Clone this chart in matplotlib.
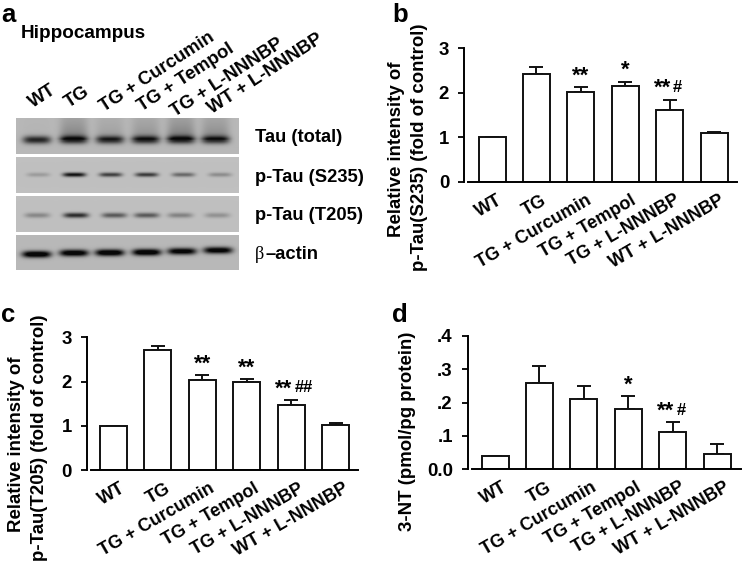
import matplotlib
matplotlib.use("Agg")
import matplotlib.pyplot as plt
import numpy as np
from matplotlib.transforms import ScaledTranslation

W, H = 742, 568

plt.rcParams["font.family"] = ["Liberation Sans", "DejaVu Sans"]
plt.rcParams["font.weight"] = "bold"

groups = ["WT", "TG", "TG + Curcumin", "TG + Tempol", "TG + L-NNNBP", "WT + L-NNNBP"]

# bar heights and upper error bars
b_values = [1.0, 2.42, 2.02, 2.16, 1.62, 1.10]
b_errors = [0.0, 0.15, 0.11, 0.09, 0.23, 0.03]
b_stars = ["", "", "**", "*", "**", ""]
b_hashes = ["", "", "", "", "#", ""]
b_ticks = [0, 1, 2, 3]
b_ticklabels = ["0", "1", "2", "3"]

c_values = [1.0, 2.71, 2.04, 2.00, 1.47, 1.03]
c_errors = [0.0, 0.10, 0.10, 0.06, 0.12, 0.03]
c_stars = ["", "", "**", "**", "**", ""]
c_hashes = ["", "", "", "", "##", ""]
c_ticks = [0, 1, 2, 3]
c_ticklabels = ["0", "1", "2", "3"]

d_values = [0.04, 0.26, 0.21, 0.18, 0.11, 0.045]
d_errors = [0.0, 0.05, 0.04, 0.04, 0.03, 0.03]
d_stars = ["", "", "", "*", "**", ""]
d_hashes = ["", "", "", "", "#", ""]
d_ticks = [0, 0.1, 0.2, 0.3, 0.4]
d_ticklabels = ["0.0", ".1", ".2", ".3", ".4"]

# band darkness per lane, smear is the haze above the band
tau_bands = [0.58, 0.62, 0.58, 0.60, 0.62, 0.58]
tau_smear = [0.02, 0.26, 0.12, 0.18, 0.28, 0.22]
s235_bands = [0.14, 0.68, 0.50, 0.52, 0.34, 0.20]
t205_bands = [0.22, 0.58, 0.40, 0.40, 0.24, 0.18]
actin_bands = [0.85, 0.82, 0.85, 0.85, 0.78, 0.78]

fig = plt.figure(figsize=(W / 100, H / 100), dpi=100, facecolor="white")


def px_text(x, y, s, **kw):
    return fig.text(x / W, 1 - y / H, s, **kw)


def blot_strip(top, bottom, centers, half_width, bands, band_y, band_h, smear=None, bg=0.72):
    left, right = 16, 239
    xs = np.arange(left, right) + 0.5
    ys = np.arange(top, bottom) + 0.5
    xx, yy = np.meshgrid(xs, ys)
    img = np.full(xx.shape, bg)
    for i, c in enumerate(centers):
        profile = np.exp(-(((xx - c) / half_width) ** 4))
        cy = band_y[i] if np.ndim(band_y) else band_y
        img -= bands[i] * profile * np.exp(-(((yy - top - cy) / band_h) ** 2))
        if smear is not None:
            above = np.clip(top + cy - yy, 0, None)
            img -= smear[i] * profile * np.exp(-above / 20) * (yy < top + cy)
    ax = fig.add_axes([left / W, 1 - bottom / H, (right - left) / W, (bottom - top) / H])
    ax.imshow(np.clip(img, 0.03, 1), cmap="gray", vmin=0, vmax=1, aspect="auto", interpolation="bilinear")
    ax.axis("off")


def bar_panel(rect, values, errors, stars, hashes, ticks, ticklabels, ymax, label_shift):
    # rect is axis x, tick-top y, x-axis end, zero y, first bar centre and spacing in pixels
    ax_left, ax_top, ax_right, ax_bottom, first, step = rect
    ax = fig.add_axes([ax_left / W, 1 - ax_bottom / H, (ax_right - ax_left) / W, (ax_bottom - ax_top) / H])
    x = np.arange(len(values))
    ax.bar(x, values, width=27 / step, facecolor="white", edgecolor="#111111", linewidth=1.4, zorder=2)
    ax.errorbar(x, values, yerr=[np.zeros(len(values)), errors], fmt="none", ecolor="#111111",
                elinewidth=1.4, capsize=4.8, capthick=1.4, zorder=1)
    ax.set_xlim((ax_left - first) / step, (ax_right - first) / step)
    ax.set_ylim(0, ymax)
    ax.set_yticks(ticks)
    ax.set_yticklabels(ticklabels, fontsize=13.4, fontweight="bold")
    ax.set_xticks(x)
    ax.set_xticklabels(groups, fontsize=13, fontweight="bold", rotation=30, ha="right", rotation_mode="anchor")
    ax.tick_params(axis="x", length=0, pad=7)
    ax.tick_params(axis="y", length=4.2, width=1.4, pad=6.5, color="#111111")
    shift = ScaledTranslation(label_shift / 100, 0, fig.dpi_scale_trans)
    for lab in ax.get_xticklabels():
        lab.set_transform(lab.get_transform() + shift)
    ax.spines["top"].set_visible(False)
    ax.spines["right"].set_visible(False)
    ax.spines["left"].set_linewidth(1.4)
    ax.spines["bottom"].set_linewidth(1.4)
    ax.spines["bottom"].set_bounds((ax_left + 4 - first) / step, (ax_right - first) / step)
    ax.patch.set_alpha(0)

    for i in range(len(values)):
        top = values[i] + errors[i]
        if stars[i]:
            has_hash = bool(hashes[i])
            ax.annotate(stars[i], xy=(i, top), xytext=(1 if has_hash else 0, 4), textcoords="offset points",
                        ha="right" if has_hash else "center", va="baseline", fontsize=16, fontweight="bold")
        if hashes[i]:
            ax.annotate(hashes[i], xy=(i, top), xytext=(2.5, 5.5), textcoords="offset points",
                        ha="left", va="baseline", fontsize=12, fontweight="bold")
    return ax


# panel a
blot_strip(118, 154, [37, 73.7, 110, 145.7, 181, 215.5], 14, tau_bands, 22.3, 3.8, smear=tau_smear, bg=0.72)
blot_strip(157, 193, [38.3, 74.3, 110.7, 146.7, 183.3, 220], 11.5, s235_bands, 17.7, 2.2, bg=0.75)
blot_strip(196, 232, [37.3, 76, 114.3, 146.7, 180.3, 217.3], 12.5, t205_bands, 19.3, 2.6, bg=0.75)
blot_strip(235, 270, [36.7, 74, 109.7, 146.7, 182, 218], 14.5, actin_bands,
           [19.3, 18, 17.7, 17.3, 16.3, 15.3], 3.4, bg=0.72)

px_text(1, 21.7, "a", fontsize=18.5, va="baseline")
px_text(20.5, 38.3, "Hippocampus", fontsize=13.6, va="baseline")
label_starts = [(33, 108), (69, 108), (104, 112), (142, 112), (175, 117), (212, 114)]
for (lx, ly), name in zip(label_starts, groups):
    px_text(lx, ly, name, fontsize=13.3, rotation=33, ha="left", va="baseline", rotation_mode="anchor")

px_text(255, 141.7, "Tau (total)", fontsize=13.2, va="baseline")
px_text(255, 181.7, "p-Tau (S235)", fontsize=13.2, va="baseline")
px_text(255, 220, "p-Tau (T205)", fontsize=13.2, va="baseline")
px_text(255, 259.3, "\u03b2", fontsize=13.2, va="baseline", family="Liberation Serif", fontweight="normal")
px_text(265, 259.3, "\u2013actin", fontsize=13.2, va="baseline")

# panels b, c, d
bar_panel((464, 48.3, 737, 182, 492, 44.4), b_values, b_errors, b_stars, b_hashes, b_ticks, b_ticklabels, 3, 5)
bar_panel((86.7, 337.3, 358, 470.3, 113.3, 44.5), c_values, c_errors, c_stars, c_hashes, c_ticks, c_ticklabels, 3, 7)
bar_panel((467.7, 336, 740.7, 469, 495, 44.45), d_values, d_errors, d_stars, d_hashes, d_ticks, d_ticklabels, 0.4, 7)

px_text(392, 21.7, "b", fontsize=18.5, va="baseline")
px_text(1, 322, "c", fontsize=18.5, va="baseline")
px_text(392, 322, "d", fontsize=18.5, va="baseline")

px_text(397, 149, "Relative intensity of", fontsize=13.4, rotation=90, ha="center", va="center")
px_text(419.5, 147, "p-Tau(S235) (fold of control)", fontsize=13.4, rotation=90, ha="center", va="center")
px_text(17, 444, "Relative intensity of", fontsize=13.4, rotation=90, ha="center", va="center")
px_text(40, 438, "p-Tau(T205) (fold of control)", fontsize=13.4, rotation=90, ha="center", va="center")
px_text(408, 431, "3-NT (pmol/pg protein)", fontsize=13.4, rotation=90, ha="center", va="center")

fig.savefig("out.png", dpi=100)
